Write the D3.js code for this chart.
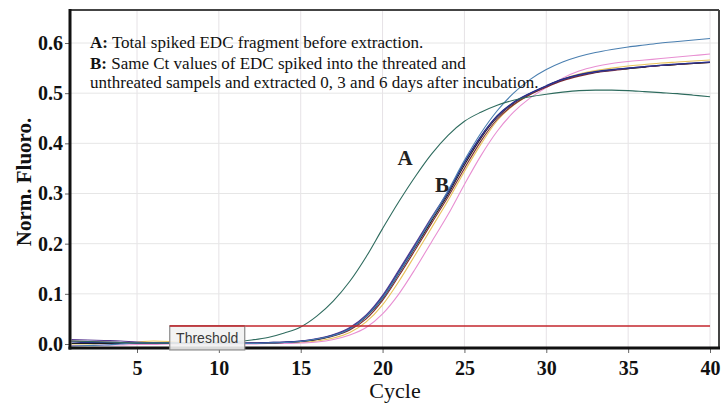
<!DOCTYPE html>
<html><head><meta charset="utf-8">
<script src="https://cdn.jsdelivr.net/npm/d3@7"></script>
<style>body{margin:0;background:#fff}svg{display:block}</style>
</head><body>
<svg id="c" width="724" height="410"></svg>
<script>
const cycles = d3.range(1, 41);
const xTicks = [5, 10, 15, 20, 25, 30, 35, 40];
const yTicks = [0.0, 0.1, 0.2, 0.3, 0.4, 0.5, 0.6];
const thresholdValue = 0.036;
const thresholdStart = 7;

const curveA = [0.006,0.005,0.004,0.003,0.002,0.002,0.002,0.002,0.003,0.004,0.005,0.008,0.013,0.022,0.034,0.056,0.086,0.125,0.174,0.23,0.284,0.334,0.379,0.416,0.444,0.462,0.476,0.486,0.493,0.498,0.502,0.505,0.506,0.506,0.505,0.503,0.501,0.499,0.496,0.493];
const curveNavy = [0.004,0.003,0.003,0.002,0.002,0.002,0.002,0.002,0.002,0.002,0.002,0.002,0.003,0.004,0.006,0.01,0.018,0.031,0.056,0.094,0.145,0.197,0.25,0.302,0.362,0.414,0.455,0.482,0.5,0.515,0.528,0.537,0.543,0.547,0.55,0.553,0.556,0.558,0.56,0.562];
const curveBlack = [0.001,0.001,0.001,0.001,0.001,0.001,0.001,0.001,0.001,0.001,0.001,0.002,0.002,0.003,0.005,0.009,0.017,0.03,0.054,0.091,0.141,0.193,0.246,0.298,0.357,0.41,0.452,0.48,0.499,0.514,0.527,0.536,0.542,0.546,0.549,0.552,0.555,0.557,0.559,0.561];
const curvePurple = [0.009,0.008,0.007,0.006,0.004,0.003,0.003,0.002,0.002,0.002,0.002,0.002,0.003,0.004,0.006,0.011,0.019,0.033,0.058,0.097,0.148,0.2,0.253,0.304,0.362,0.413,0.454,0.481,0.499,0.514,0.527,0.536,0.542,0.546,0.55,0.553,0.555,0.558,0.56,0.562];
const curveDarkRed = [0.006,0.005,0.004,0.003,0.002,0.002,0.001,0.001,0.001,0.001,0.001,0.001,0.002,0.003,0.005,0.009,0.016,0.028,0.05,0.087,0.136,0.188,0.241,0.293,0.35,0.404,0.448,0.477,0.497,0.512,0.525,0.534,0.541,0.545,0.549,0.552,0.555,0.557,0.559,0.561];
const curveYellow = [0,0,0.001,0.002,0.004,0.006,0.005,0.003,0.002,0.001,0.001,0.001,0.001,0.002,0.003,0.006,0.012,0.023,0.044,0.078,0.125,0.178,0.232,0.286,0.344,0.398,0.445,0.476,0.497,0.514,0.528,0.538,0.545,0.55,0.554,0.557,0.56,0.562,0.564,0.566];
const curvePink = [-0.003,-0.003,-0.002,-0.002,-0.001,-0.001,0,0,0,0,0,0,0.001,0.001,0.002,0.004,0.009,0.018,0.033,0.06,0.1,0.15,0.204,0.258,0.318,0.375,0.424,0.462,0.49,0.511,0.53,0.544,0.553,0.559,0.563,0.566,0.569,0.572,0.575,0.578];
const curveSteel = [-0.004,-0.003,-0.002,0,0.002,0.002,0.002,0.001,0.001,0.001,0.001,0.001,0.002,0.003,0.005,0.01,0.017,0.03,0.055,0.092,0.142,0.195,0.25,0.306,0.366,0.42,0.465,0.5,0.527,0.547,0.562,0.573,0.581,0.587,0.592,0.596,0.6,0.603,0.606,0.609];

const seriesNames = ["yellow","pink","darkred","black","purple","navy","steel","A"];
const seriesValues = [curveYellow, curvePink, curveDarkRed, curveBlack, curvePurple, curveNavy, curveSteel, curveA];
const seriesColors = ["#e8c35a","#e88fd2","#7c2a32","#1e1e1e","#5a3a92","#24308a","#4a7fb0","#2e6b5e"];

const svg = d3.select("#c");
const L = 70, R = 719, T = 10, B = 348;
const x = d3.scaleLinear().domain([5, 40]).range([137, 710]);
const y = d3.scaleLinear().domain([0, 0.6]).range([344, 43]);

// grid
svg.append("g").selectAll("line").data(xTicks).join("line")
  .attr("x1", d => x(d)).attr("x2", d => x(d)).attr("y1", T).attr("y2", B)
  .attr("stroke", "#e6e2e6").attr("stroke-width", 1);
svg.append("g").selectAll("line").data(yTicks.filter(d => d > 0)).join("line")
  .attr("x1", L).attr("x2", R).attr("y1", d => y(d)).attr("y2", d => y(d))
  .attr("stroke", "#e6e6e6").attr("stroke-width", 1);

// axes
const xAxis = d3.axisBottom(x).tickValues(xTicks).tickSize(5).tickFormat(d3.format("d"));
const gx = svg.append("g").attr("transform", `translate(0,${B})`).call(xAxis);
gx.select(".domain").remove();
gx.selectAll(".tick line").attr("stroke", "#666");
gx.selectAll(".tick text").attr("dy", "1.05em").attr("y", 6)
  .style("font-family", "'Liberation Serif', 'Times New Roman', serif")
  .style("font-weight", "bold").style("font-size", "20px").attr("fill", "#111");

const yAxis = d3.axisLeft(y).tickValues(yTicks).tickSize(5).tickFormat(d3.format(".1f"));
const gy = svg.append("g").attr("transform", `translate(${L},0)`).call(yAxis);
gy.select(".domain").remove();
gy.selectAll(".tick line").attr("stroke", "#666");
gy.selectAll(".tick text").attr("x", -7)
  .style("font-family", "'Liberation Serif', 'Times New Roman', serif")
  .style("font-weight", "bold").style("font-size", "20px").attr("fill", "#111");

// clip
svg.append("clipPath").attr("id", "clip").append("rect")
  .attr("x", L).attr("y", T).attr("width", R - L).attr("height", B - T);

const line = d3.line().x((d, i) => x(cycles[i])).y(d => y(d)).curve(d3.curveMonotoneX);
const gl = svg.append("g").attr("clip-path", "url(#clip)");
gl.selectAll("path").data(seriesValues).join("path")
  .attr("d", d => line(d)).attr("fill", "none")
  .attr("stroke", (d, i) => seriesColors[i]).attr("stroke-width", 1.1);

// threshold
svg.append("line").attr("x1", x(thresholdStart)).attr("x2", x(40))
  .attr("y1", y(thresholdValue)).attr("y2", y(thresholdValue))
  .attr("stroke", "#c3262c").attr("stroke-width", 1.5);

// frame
svg.append("line").attr("x1", L).attr("x2", R).attr("y1", T).attr("y2", T).attr("stroke", "#444").attr("stroke-width", 2);
svg.append("line").attr("x1", R).attr("x2", R).attr("y1", T).attr("y2", B).attr("stroke", "#444").attr("stroke-width", 2);
svg.append("line").attr("x1", L).attr("x2", L).attr("y1", T - 1).attr("y2", B + 1.5).attr("stroke", "#111").attr("stroke-width", 3);
svg.append("line").attr("x1", L - 1.5).attr("x2", R + 1).attr("y1", B).attr("y2", B).attr("stroke", "#111").attr("stroke-width", 3);

// threshold label box
const tbx = x(thresholdStart), tby = y(thresholdValue);
svg.append("rect").attr("x", tbx).attr("y", tby).attr("width", 75).attr("height", 24)
  .attr("fill", "#f2f2f2").attr("fill-opacity", 0.9).attr("stroke", "#8a8a8a").attr("stroke-width", 1.2);
svg.append("line").attr("x1", tbx).attr("x2", tbx + 75).attr("y1", tby).attr("y2", tby)
  .attr("stroke", "#c3262c").attr("stroke-width", 1.5);
svg.append("text").attr("x", tbx + 37.5).attr("y", tby + 17.5).attr("text-anchor", "middle")
  .style("font-family", "'Liberation Sans', Arial, sans-serif").style("font-size", "14px")
  .attr("fill", "#3a3a3a").text("Threshold");

// axis titles
const serif = "'Liberation Serif', 'Times New Roman', serif";
svg.append("text").attr("x", 395).attr("y", 398).attr("text-anchor", "middle")
  .style("font-family", serif).style("font-size", "22px").attr("fill", "#111").text("Cycle");
svg.append("text").attr("transform", "translate(31,182) rotate(-90)").attr("text-anchor", "middle")
  .style("font-family", serif).style("font-size", "21px").style("font-weight", "bold")
  .attr("fill", "#111").text("Norm. Fluoro.");

// annotations
const notes = [
  {b: "A:", t: " Total spiked EDC fragment before extraction.", yy: 48},
  {b: "B:", t: " Same Ct values of EDC spiked into the threated and", yy: 69},
  {b: "", t: "unthreated sampels and extracted 0, 3 and 6 days after incubation.", yy: 88}
];
notes.forEach(n => {
  const t = svg.append("text").attr("x", 90).attr("y", n.yy)
    .style("font-family", serif).style("font-size", "17px").attr("fill", "#111");
  if (n.b) t.append("tspan").style("font-weight", "bold").text(n.b);
  t.append("tspan").text(n.t);
});
svg.append("text").attr("x", 405).attr("y", 165).attr("text-anchor", "middle")
  .style("font-family", serif).style("font-size", "21px").style("font-weight", "bold").attr("fill", "#222").text("A");
svg.append("text").attr("x", 442).attr("y", 192).attr("text-anchor", "middle")
  .style("font-family", serif).style("font-size", "21px").style("font-weight", "bold").attr("fill", "#222").text("B");
</script>
</body></html>
